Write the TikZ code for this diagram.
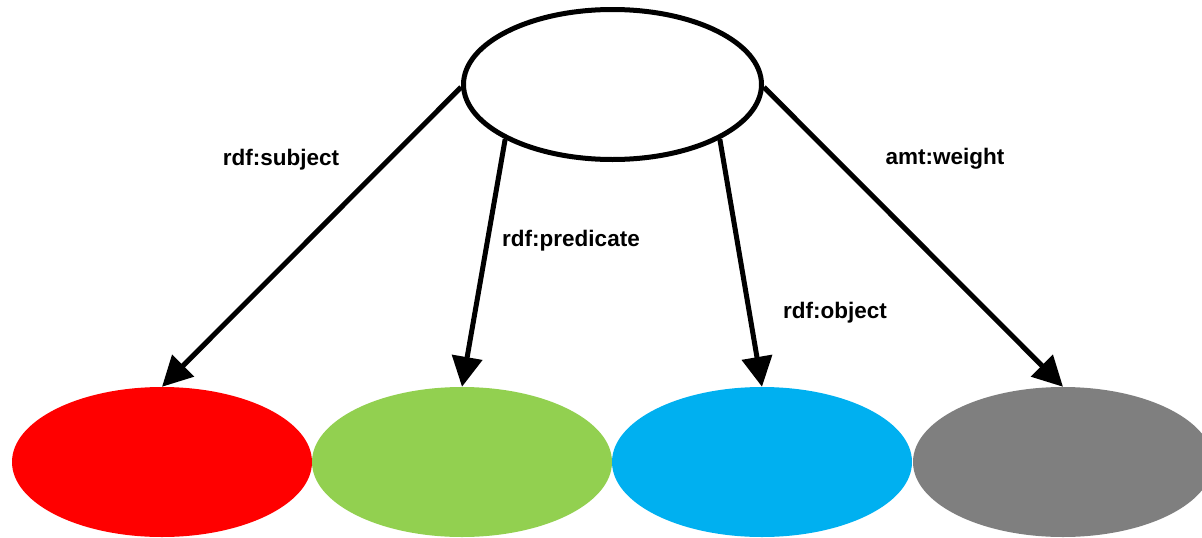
\documentclass[tikz,border=0pt]{standalone}
\usepackage{fontspec}
\setmainfont{Liberation Sans}
\usetikzlibrary{arrows.meta,shapes.geometric}
\definecolor{cred}{HTML}{FF0000}
\definecolor{cgreen}{HTML}{92D050}
\definecolor{cblue}{HTML}{00B0F0}
\definecolor{cgrey}{HTML}{7F7F7F}
\tikzset{
  blob/.style={ellipse, minimum width=300pt, minimum height=150pt, inner sep=0pt, draw=none},
  topblob/.style={ellipse, draw=black, line width=5pt, fill=white, minimum width=298pt, minimum height=150pt, inner sep=0pt},
  conn/.style={line width=5pt, -{Triangle[length=30pt,width=30pt]}, shorten >=0pt},
  lbl/.style={font=\fontsize{22.5}{26}\selectfont\bfseries, inner sep=0pt, anchor=base}
}
\begin{document}
\begin{tikzpicture}[x=1pt,y=-1pt]
\useasboundingbox (0,0) rectangle (1202,538);
\node[blob, fill=cred]   (subj) at (162,462) {};
\node[blob, fill=cgreen] (pred) at (462,462) {};
\node[blob, fill=cblue]  (obj)  at (762,462) {};
\node[blob, fill=cgrey]  (wt)   at (1063,462) {};
\node[topblob] (top) at (612.5,84.5) {};
\draw[conn] (top.181) -- (subj.north);
\draw[conn] (top.207) -- (pred.north);
\draw[conn] (top.333) -- (obj.north);
\draw[conn] (top.359) -- (wt.north);
\node[lbl] (l1) at (281,165) {rdf:subject};
\node[lbl] (l2) at (571,246) {rdf:predicate};
\node[lbl] (l3) at (835,318) {rdf:object};
\node[lbl] (l4) at (945,164) {amt:weight};
\end{tikzpicture}
\end{document}
